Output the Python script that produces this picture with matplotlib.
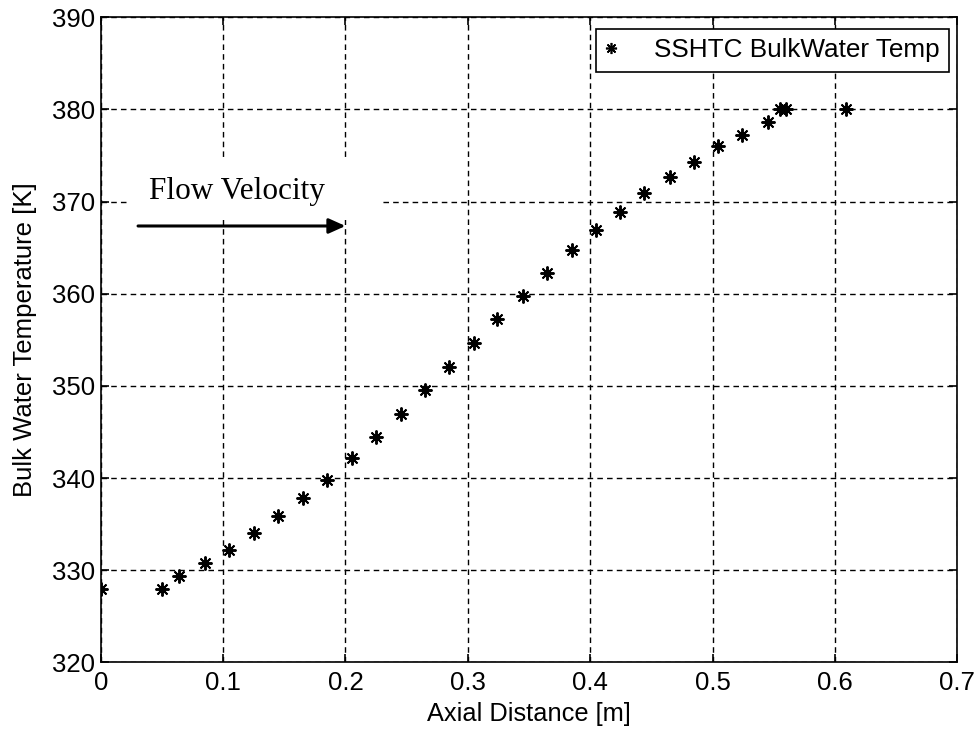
import matplotlib
matplotlib.use('Agg')
import matplotlib.pyplot as plt
from matplotlib.patches import Rectangle

# axial position [m] and bulk water temperature [K]
axial_dist = [0.0, 0.050, 0.064, 0.085, 0.105, 0.125, 0.145, 0.165, 0.185,
              0.205, 0.225, 0.245, 0.265, 0.285, 0.305, 0.324, 0.345, 0.365,
              0.385, 0.405, 0.424, 0.444, 0.465, 0.485, 0.504, 0.524, 0.545,
              0.555, 0.560, 0.609]
bulk_temp = [328.0, 328.0, 329.4, 330.8, 332.2, 334.0, 335.9, 337.8, 339.8,
             342.2, 344.5, 347.0, 349.5, 352.0, 354.7, 357.3, 359.8, 362.3,
             364.7, 366.9, 368.9, 370.9, 372.7, 374.3, 376.0, 377.2, 378.6,
             380.0, 380.0, 380.0]

x_ticks = [0, 0.1, 0.2, 0.3, 0.4, 0.5, 0.6, 0.7]
x_tick_labels = ['0', '0.1', '0.2', '0.3', '0.4', '0.5', '0.6', '0.7']
y_ticks = [320, 330, 340, 350, 360, 370, 380, 390]

plt.rcParams['font.family'] = ['Liberation Sans', 'DejaVu Sans']

fig = plt.figure(figsize=(9.76, 7.29), dpi=100)
ax = fig.add_axes([0.1032, 0.0915, 0.8777, 0.8848])

# MATLAB style asterisk marker
ax.plot(axial_dist, bulk_temp, linestyle='none', marker=(8, 2, 0),
        markersize=10, markeredgewidth=1.4, color='black', zorder=3,
        label='SSHTC BulkWater Temp')

ax.set_xlim(0, 0.7)
ax.set_ylim(320, 390)
ax.set_xticks(x_ticks)
ax.set_xticklabels(x_tick_labels)
ax.set_yticks(y_ticks)
ax.set_axisbelow(True)
ax.grid(True, color='black', linestyle=(0, (4, 3)), linewidth=1.0)
ax.tick_params(direction='in', length=6, width=1.2, top=True, right=True,
               labelsize=18.5, colors='black', pad=4)
ax.tick_params(axis='x', pad=6)
for sp in ax.spines.values():
    sp.set_linewidth(1.2)
    sp.set_color('black')

ax.set_xlabel('Axial Distance [m]', fontsize=18.3, labelpad=5)
ax.set_ylabel('Bulk Water Temperature [K]', fontsize=18.5, labelpad=11)

# "Flow Velocity" annotation, white box hides the grid behind it
ax.add_patch(Rectangle((0.0215, 368.0), 0.2085, 6.5, facecolor='white',
                       edgecolor='none', zorder=1))
ax.text(0.0395, 370.3, 'Flow Velocity', family='Liberation Serif',
        fontsize=22.5, va='baseline', ha='left', zorder=2)
ax.annotate('', xy=(0.2, 367.35), xytext=(0.0305, 367.35),
            arrowprops=dict(arrowstyle='-|>,head_length=1.0,head_width=0.45',
                            color='black', lw=2.2, shrinkA=0, shrinkB=0),
            zorder=2)

leg = ax.legend(loc='upper right', bbox_to_anchor=(0.9903, 0.9814),
                borderaxespad=0, fontsize=18.8, handlelength=0.5,
                handletextpad=1.4, borderpad=0.35, fancybox=False,
                framealpha=1, edgecolor='black')
leg.get_frame().set_linewidth(1.2)
leg.legend_handles[0].set_markersize(8)
leg.legend_handles[0].set_markeredgewidth(1.2)

fig.savefig('out.png', dpi=100)
